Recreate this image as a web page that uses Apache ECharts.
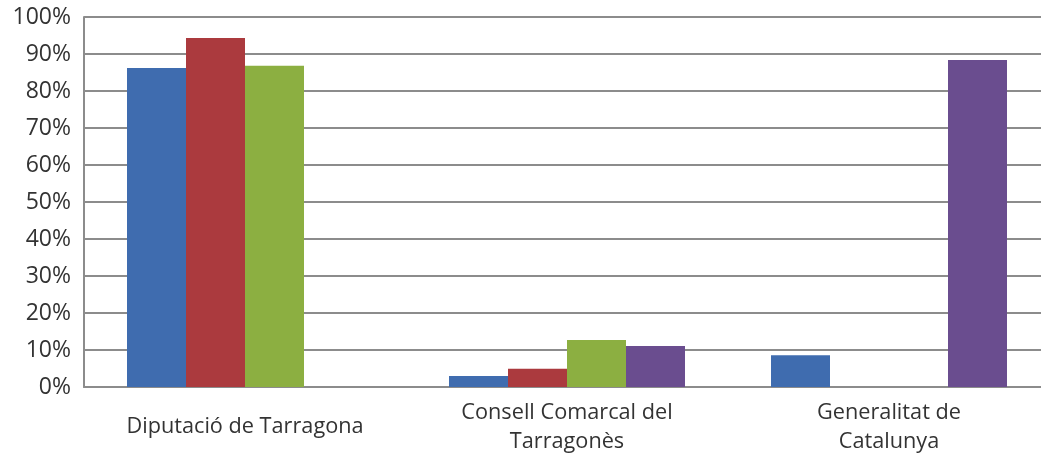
<!DOCTYPE html>
<html>
<head>
<meta charset="utf-8">
<script src="https://cdn.jsdelivr.net/npm/echarts@6/dist/echarts.min.js"></script>
<style>
  html, body { margin: 0; padding: 0; background: #fff; }
  #chart { width: 1041px; height: 456px; }
</style>
</head>
<body>
<div id="chart"></div>
<script>
// categories (x axis)
var categories = ['Diputació de Tarragona', 'Consell Comarcal del\nTarragonès', 'Generalitat de\nCatalunya'];
// series values, percent
var serieBlau = [86.2, 3.0, 8.6];
var serieVermella = [94.3, 4.9, null];
var serieVerda = [86.8, 12.7, null];
var serieLila = [null, 11.1, 88.4];
var colors = ['#3f6caf', '#ab3a3e', '#8caf41', '#6a4d8f'];

var dom = document.getElementById('chart');
var myChart = echarts.init(dom);

function bar(name, data, color) {
  return {
    name: name,
    type: 'bar',
    data: data,
    barWidth: 59,
    barGap: '0%',
    itemStyle: { color: color }
  };
}

var option = {
  animation: false,
  grid: { left: 84, top: 17, right: -9, bottom: 69, containLabel: false, outerBoundsMode: 'none' },
  xAxis: {
    type: 'category',
    data: categories,
    axisLine: { show: true, lineStyle: { color: '#8c8c8c', width: 2 } },
    axisTick: { show: false },
    axisLabel: {
      color: '#333',
      fontFamily: 'Open Sans',
      fontSize: 21.7,
      lineHeight: 29,
      verticalAlign: 'middle',
      margin: 40
    }
  },
  yAxis: {
    type: 'value',
    min: 0,
    max: 100,
    interval: 10,
    axisLine: { show: true, lineStyle: { color: '#8c8c8c', width: 2 } },
    axisTick: { show: false },
    splitLine: { lineStyle: { color: '#8c8c8c', width: 2 } },
    axisLabel: {
      formatter: '{value}%',
      color: '#333',
      fontFamily: 'Open Sans',
      fontSize: 23,
      margin: 13
    }
  },
  series: [
    bar('Sèrie 1', serieBlau, colors[0]),
    bar('Sèrie 2', serieVermella, colors[1]),
    bar('Sèrie 3', serieVerda, colors[2]),
    bar('Sèrie 4', serieLila, colors[3])
  ]
};

myChart.setOption(option, true);
</script>
</body>
</html>
